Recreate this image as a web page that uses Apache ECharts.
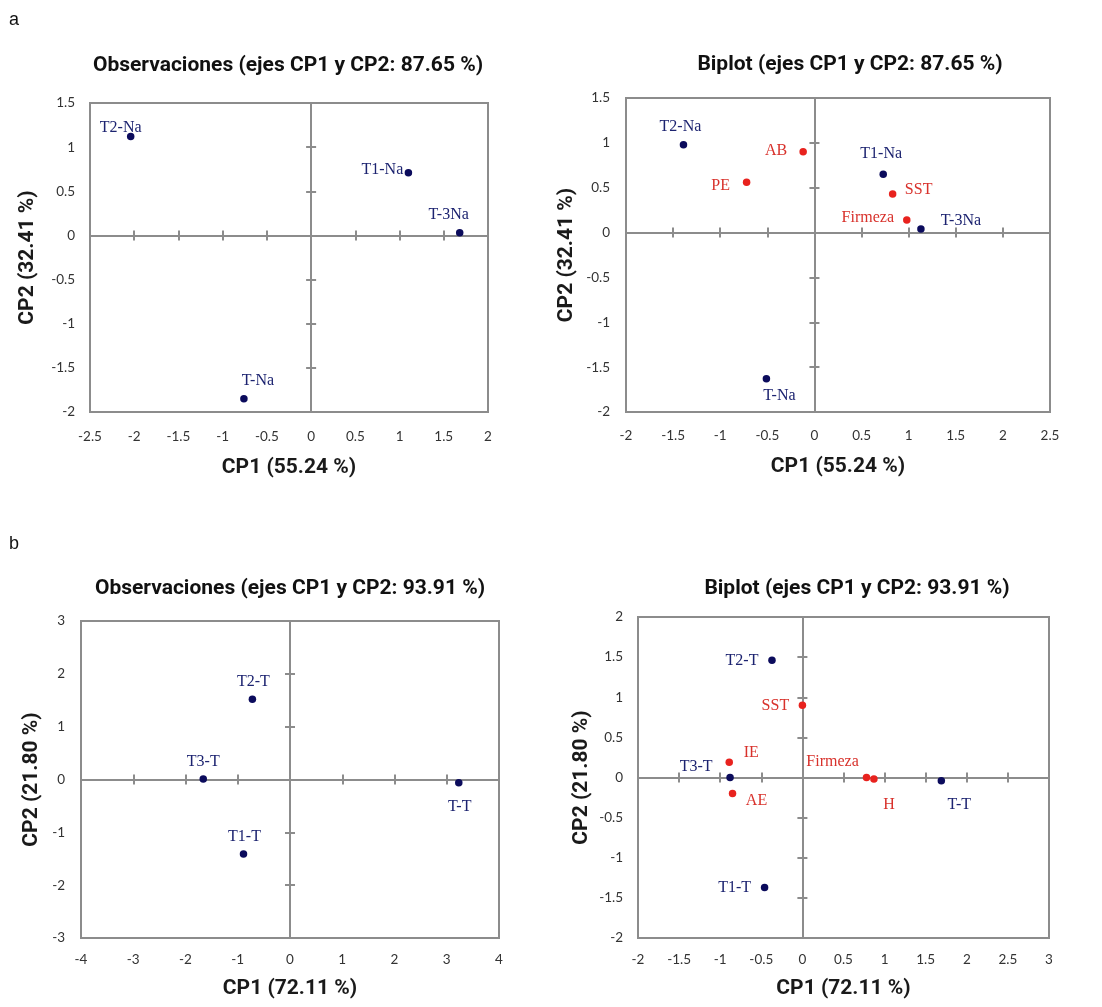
<!DOCTYPE html>
<html><head><meta charset="utf-8">
<script src="https://cdn.jsdelivr.net/npm/echarts@6/dist/echarts.min.js"></script>
<style>html,body{margin:0;padding:0;background:#fff}#c{width:1102px;height:1007px}</style>
</head><body><div id="c"></div>
<script>
// ---------- DATA ----------
const panelTitles = [
  'Observaciones (ejes CP1 y CP2: 87.65 %)',
  'Biplot (ejes CP1 y CP2: 87.65 %)',
  'Observaciones (ejes CP1 y CP2: 93.91 %)',
  'Biplot (ejes CP1 y CP2: 93.91 %)'
];
const panelLetters = ['a', 'b'];
const xNames = ['CP1 (55.24 %)', 'CP1 (55.24 %)', 'CP1 (72.11 %)', 'CP1 (72.11 %)'];
const yNames = ['CP2 (32.41 %)', 'CP2 (32.41 %)', 'CP2 (21.80 %)', 'CP2 (21.80 %)'];
const xMin = [-2.5, -2, -4, -2];
const xMax = [2, 2.5, 4, 3];
const xStep = [0.5, 0.5, 1, 0.5];
const yMin = [-2, -2, -3, -2];
const yMax = [1.5, 1.5, 3, 2];
const yStep = [0.5, 0.5, 1, 0.5];

// panel a – observaciones
const aObsNames = ['T2-Na', 'T1-Na', 'T-3Na', 'T-Na'];
const aObsX = [-2.04, 1.10, 1.68, -0.76];
const aObsY = [1.12, 0.71, 0.03, -1.85];
// panel a – biplot
const aBiObsNames = ['T2-Na', 'T1-Na', 'T-3Na', 'T-Na'];
const aBiObsX = [-1.39, 0.73, 1.13, -0.51];
const aBiObsY = [0.98, 0.65, 0.04, -1.63];
const aBiVarNames = ['AB', 'PE', 'SST', 'Firmeza'];
const aBiVarX = [-0.12, -0.72, 0.83, 0.98];
const aBiVarY = [0.90, 0.56, 0.43, 0.14];
// panel b – observaciones
const bObsNames = ['T2-T', 'T3-T', 'T-T', 'T1-T'];
const bObsX = [-0.72, -1.66, 3.23, -0.89];
const bObsY = [1.52, 0.01, -0.06, -1.41];
// panel b – biplot
const bBiObsNames = ['T2-T', 'T3-T', 'T-T', 'T1-T'];
const bBiObsX = [-0.37, -0.88, 1.69, -0.46];
const bBiObsY = [1.46, 0.00, -0.04, -1.37];
const bBiVarNames = ['SST', 'IE', 'AE', 'Firmeza', 'H'];
const bBiVarX = [0.00, -0.89, -0.85, 0.78, 0.87];
const bBiVarY = [0.90, 0.19, -0.20, 0.00, -0.02];

// ---------- STYLE / LAYOUT ----------
const grids = [
  {left: 90, top: 103, width: 398, height: 309},
  {left: 626, top: 98, width: 424, height: 314},
  {left: 81, top: 621, width: 418, height: 317},
  {left: 638, top: 617, width: 411, height: 321}
];
const titlePos = [[288, 66], [850, 65], [290, 589], [857, 589]];
const letterPos = [[14, 20], [14, 544]];
const xLabelMargin = [18, 17, 15, 15];
const yLabelMargin = [15, 16, 16, 15];
const xNameGap = [45, 44, 40, 40];
const yNameGap = [52, 49, 39, 46];

const lblOff = {
  aObs: [[-10, -9], [-26, -3], [-11, -18], [14, -18]],
  aBiObs: [[-3, -18], [-2, -20], [40, -8], [13, 17]],
  aBiVar: [[-27, -1], [-26, 3], [26, -4], [-39, -2]],
  bObs: [[1, -17], [0, -17], [1, 24], [1, -17]],
  bBiObs: [[-30, 0], [-34, -11], [18, 24], [-30, 0]],
  bBiVar: [[-27, 1], [22, -9], [24, 7], [-34, -16], [15, 26]]
};

const NAVY = '#0b0b5c';
const NAVY_TXT = '#1c2370';
const RED = '#e8221e';
const RED_TXT = '#d8312b';
const GRAY = '#8c8c8c';
const BOLDFONT = "Roboto, 'Liberation Sans', sans-serif";
const TICKFONT = "Lato, 'Liberation Sans', sans-serif";
const SERIF = "'Liberation Serif', 'Times New Roman', serif";

// ---------- BUILD ----------
const xAxis = [], yAxis = [], series = [], graphic = [];
for (let p = 0; p < 4; p++) {
  const base = 3 * p;
  const common = (mn, mx, st) => ({gridIndex: p, type: 'value', min: mn, max: mx, interval: st, splitLine: {show: false}});
  xAxis.push(Object.assign(common(xMin[p], xMax[p], xStep[p]), {
    position: 'bottom',
    axisLine: {show: false, onZero: false}, axisTick: {show: false},
    axisLabel: {margin: xLabelMargin[p], fontFamily: TICKFONT, fontSize: 13.5, color: '#333'},
    name: xNames[p], nameLocation: 'middle', nameGap: xNameGap[p],
    nameTextStyle: {fontFamily: BOLDFONT, fontWeight: 'bold', fontSize: 21, color: '#1a1a1a'}
  }));
  [true, false].forEach(inside => {
    xAxis.push(Object.assign(common(xMin[p], xMax[p], xStep[p]), {
      position: 'bottom',
      axisLine: {show: true, onZero: true, onZeroAxisIndex: base, lineStyle: {color: GRAY, width: 2}},
      axisTick: {show: true, inside: inside, length: 5, lineStyle: {color: GRAY, width: 2}},
      axisLabel: {show: false}
    }));
  });
  yAxis.push(Object.assign(common(yMin[p], yMax[p], yStep[p]), {
    position: 'left',
    axisLine: {show: false, onZero: false}, axisTick: {show: false},
    axisLabel: {margin: yLabelMargin[p], fontFamily: TICKFONT, fontSize: 13.5, color: '#333'},
    name: yNames[p], nameLocation: 'middle', nameGap: yNameGap[p],
    nameTextStyle: {fontFamily: BOLDFONT, fontWeight: 'bold', fontSize: 21, color: '#1a1a1a'}
  }));
  [true, false].forEach(inside => {
    yAxis.push(Object.assign(common(yMin[p], yMax[p], yStep[p]), {
      position: 'left',
      axisLine: {show: true, onZero: true, onZeroAxisIndex: base, lineStyle: {color: GRAY, width: 2}},
      axisTick: {show: true, inside: inside, length: 5, lineStyle: {color: GRAY, width: 2}},
      axisLabel: {show: false}
    }));
  });
  graphic.push({
    type: 'text', x: titlePos[p][0], y: titlePos[p][1], z: 10,
    style: {text: panelTitles[p], fill: '#111', font: "bold 21px " + BOLDFONT, textAlign: 'center', textVerticalAlign: 'middle'}
  });
}
letterPos.forEach((pos, i) => graphic.push({
  type: 'text', x: pos[0], y: pos[1],
  style: {text: panelLetters[i], fill: '#111', font: "18px 'Liberation Sans', Arial, sans-serif", textAlign: 'center', textVerticalAlign: 'middle'}
}));

function pts(names, xs, ys, offs) {
  return names.map((n, i) => ({name: n, value: [xs[i], ys[i]], label: {offset: offs[i]}}));
}
function sc(p, data, isVar) {
  return {
    type: 'scatter', xAxisIndex: 3 * p, yAxisIndex: 3 * p, symbolSize: 7.5, z: 5,
    itemStyle: {color: isVar ? RED : NAVY, opacity: 1},
    label: {show: true, position: 'inside', formatter: '{b}', color: isVar ? RED_TXT : NAVY_TXT,
      fontFamily: SERIF, fontSize: 16},
    emphasis: {disabled: true},
    data: data
  };
}
series.push(sc(0, pts(aObsNames, aObsX, aObsY, lblOff.aObs), false));
series.push(sc(1, pts(aBiObsNames, aBiObsX, aBiObsY, lblOff.aBiObs), false));
series.push(sc(1, pts(aBiVarNames, aBiVarX, aBiVarY, lblOff.aBiVar), true));
series.push(sc(2, pts(bObsNames, bObsX, bObsY, lblOff.bObs), false));
series.push(sc(3, pts(bBiObsNames, bBiObsX, bBiObsY, lblOff.bBiObs), false));
series.push(sc(3, pts(bBiVarNames, bBiVarX, bBiVarY, lblOff.bBiVar), true));

const chart = echarts.init(document.getElementById('c'), null, {renderer: 'canvas'});
chart.setOption({
  animation: false,
  backgroundColor: '#fff',
  grid: grids.map(g => Object.assign({show: true, borderColor: GRAY, borderWidth: 2, containLabel: false}, g)),
  xAxis: xAxis,
  yAxis: yAxis,
  series: series,
  graphic: graphic
});
</script></body></html>
